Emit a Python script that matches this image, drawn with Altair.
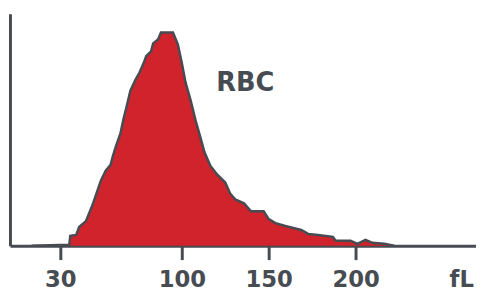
import altair as alt
import pandas as pd

# RBC volume distribution (fL vs relative count)
volume_fl = [13.6, 35.2, 35.8, 39.2, 40.9, 44.8, 48.3, 51.1, 53.4, 56.2, 59.0, 60.2,
             61.9, 64.7, 66.4, 68.1, 70.4, 73.3, 75.5, 77.8, 79.5, 82.3, 83.5, 86.3,
             88.0, 94.9, 97.7, 100.0, 102.2, 105.1, 107.9, 110.8, 113.0, 116.4, 120.4,
             125.0, 127.8, 130.7, 135.8, 139.8, 147.1, 150.0, 153.9, 159.6, 168.7,
             172.7, 178.4, 186.9, 188.6, 197.1, 201.1, 205.7, 209.7, 216.5, 222.2]
counts = [0, 1, 10, 11, 19, 25, 40, 54, 66, 76, 82, 90,
          100, 114, 128, 140, 157, 168, 175, 184, 192, 197, 205, 209,
          216, 216, 204, 185, 165, 147, 127, 109, 95, 81, 72,
          64, 53, 47, 43, 35, 35, 27, 23, 20, 16,
          12, 11, 9, 5, 5, 2, 6, 3, 2, 0]
tick_values = [30, 100, 150, 200]
unit_label = "fL"
series_label = "RBC"

df = pd.DataFrame({"fl": volume_fl, "count": counts})

GRAY = "#474b52"
RED = "#d0232b"
FONT = "DejaVu Sans"

x_scale = alt.Scale(domain=[1.1, 269.3], nice=False, zero=False)
y_scale = alt.Scale(domain=[0, 235], nice=False)

x_axis = alt.Axis(values=tick_values, grid=False, domainColor=GRAY, domainWidth=3,
                  tickColor=GRAY, tickWidth=3, tickSize=14, labelFont=FONT,
                  labelFontSize=23, labelFontWeight="bold", labelColor=GRAY,
                  labelPadding=9, title=unit_label, titleFont=FONT, titleFontSize=23,
                  titleFontWeight="bold", titleColor=GRAY, titleX=457, titleY=41,
                  titleAlign="center", titleBaseline="alphabetic")
y_axis = alt.Axis(grid=False, labels=False, ticks=False, domainColor=GRAY,
                  domainWidth=3, title=None)

base = alt.Chart(df)
area = base.mark_area(color=RED, interpolate="linear").encode(
    x=alt.X("fl:Q", scale=x_scale, axis=x_axis),
    y=alt.Y("count:Q", scale=y_scale, axis=y_axis),
)
line = base.mark_line(color=GRAY, strokeWidth=2.5, interpolate="linear").encode(
    x=alt.X("fl:Q", scale=x_scale),
    y=alt.Y("count:Q", scale=y_scale),
)
label = alt.Chart(pd.DataFrame({"t": [series_label], "fl": [136.5], "count": [165]})).mark_text(
    font=FONT, fontSize=26, fontWeight="bold", color=GRAY, align="center", baseline="middle"
).encode(
    x=alt.X("fl:Q", scale=x_scale),
    y=alt.Y("count:Q", scale=y_scale),
    text="t:N",
)

chart = (area + line + label).properties(
    width=472, height=235,
    autosize=alt.AutoSizeParams(type="none"),
    padding={"left": 2, "top": 4, "right": 0, "bottom": 46},
).configure_view(stroke=None)

chart.save("out.html", embed_options={"renderer": "svg", "actions": False})
